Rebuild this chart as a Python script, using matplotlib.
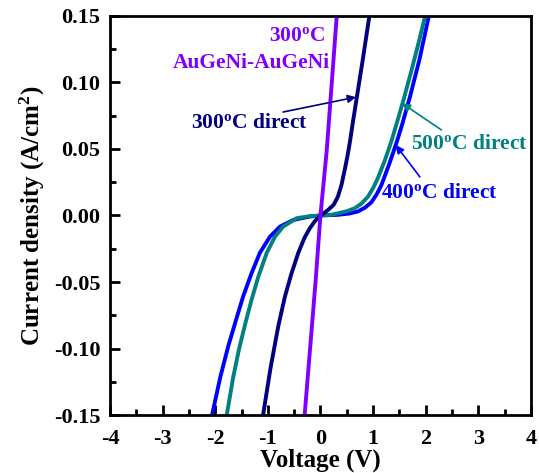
import matplotlib
matplotlib.use('Agg')
import matplotlib.pyplot as plt
from matplotlib.ticker import MultipleLocator

plt.rcParams['font.family'] = 'Liberation Serif'
plt.rcParams['font.weight'] = 'bold'
plt.rcParams['mathtext.fontset'] = 'custom'
plt.rcParams['mathtext.rm'] = 'Liberation Serif:bold'
plt.rcParams['mathtext.bf'] = 'Liberation Serif:bold'
plt.rcParams['mathtext.default'] = 'rm'

# ── Data (V in volts, J in A/cm²) ─────────────────────────────────────────────
v_augeni = [-0.30, -0.09, 0.0, 0.12, 0.31]
j_augeni = [-0.150, -0.0485, 0.0, 0.049, 0.150]

v_300 = [-1.09, -0.95, -0.80, -0.675, -0.55, -0.42, -0.30, -0.20, -0.10,
         0.0, 0.14, 0.25, 0.33, 0.40, 0.46, 0.51, 0.555, 0.62, 0.70, 0.80, 0.93]
j_300 = [-0.150, -0.115, -0.083, -0.061, -0.0435, -0.028, -0.0165, -0.0095, -0.004,
         0.0, 0.004, 0.008, 0.014, 0.023, 0.034, 0.044, 0.054, 0.071, 0.091, 0.116, 0.150]

v_500 = [-1.78, -1.66, -1.55, -1.42, -1.31, -1.18, -1.02, -0.865, -0.71, -0.45, -0.20,
         0.0, 0.20, 0.33, 0.50, 0.65, 0.78, 0.90, 1.00, 1.09, 1.22, 1.35, 1.47, 1.60, 1.73, 1.86, 1.99]
j_500 = [-0.150, -0.122, -0.101, -0.080, -0.0635, -0.046, -0.028, -0.016, -0.0084, -0.002, -0.0005,
         0.0, 0.0005, 0.0016, 0.0032, 0.0054, 0.009, 0.014, 0.0205, 0.028, 0.041, 0.056, 0.072, 0.090, 0.109, 0.129, 0.150]

v_400 = [-2.06, -1.90, -1.75, -1.60, -1.47, -1.31, -1.15, -0.96, -0.77, -0.52, -0.20,
         0.0, 0.33, 0.55, 0.71, 0.85, 0.97, 1.07, 1.16, 1.31, 1.44, 1.55, 1.70, 1.88, 2.06]
j_400 = [-0.150, -0.121, -0.098, -0.078, -0.061, -0.0435, -0.028, -0.016, -0.0084, -0.0034, -0.0008,
         0.0, 0.0005, 0.0015, 0.003, 0.006, 0.010, 0.016, 0.023, 0.039, 0.054, 0.068, 0.089, 0.117, 0.150]

c_augeni, c_300, c_400, c_500 = '#8000ff', '#000080', '#0000ff', '#008080'

fig = plt.figure(figsize=(5.39, 4.73), dpi=100)
ax = fig.add_axes([0.204, 0.1226, 0.781, 0.8436])

line_kw = dict(lw=2.8, solid_joinstyle='round', solid_capstyle='butt')
ax.plot(v_400, j_400, color=c_400, **line_kw)
ax.plot(v_500, j_500, color=c_500, **line_kw)
ax.plot(v_300, j_300, color=c_300, **line_kw)
ax.plot(v_augeni, j_augeni, color=c_augeni, **line_kw)

ax.set_xlim(-4, 4)
ax.set_ylim(-0.15, 0.15)
ax.xaxis.set_minor_locator(MultipleLocator(0.5))
ax.yaxis.set_minor_locator(MultipleLocator(0.025))
ax.set_xticks(range(-4, 5))
ax.set_xticklabels([str(i) for i in range(-4, 5)])
ax.set_yticks([-0.15, -0.10, -0.05, 0.0, 0.05, 0.10, 0.15])
ax.set_yticklabels(['-0.15', '-0.10', '-0.05', '0.00', '0.05', '0.10', '0.15'])
ax.tick_params(which='both', direction='in', width=2, labelsize=16)
ax.tick_params(axis='x', pad=10)
ax.tick_params(axis='y', pad=7)
ax.tick_params(which='major', length=7)
ax.tick_params(which='minor', length=4)
for s in ax.spines.values():
    s.set_linewidth(2)

ax.set_xlabel('Voltage (V)', fontsize=18, fontweight='bold', labelpad=0)
ax.set_ylabel('Current density (A/cm$^{2}$)', fontsize=18, fontweight='bold', labelpad=5)

# annotations
ax.text(-0.44, 0.135, '300$^{o}$C', color=c_augeni, fontsize=15.5, ha='center', va='center')
ax.text(-1.31, 0.1147, 'AuGeNi-AuGeNi', color=c_augeni, fontsize=15.5, ha='center', va='center')
ax.text(-1.34, 0.0695, '300$^{o}$C direct', color=c_300, fontsize=15.5, ha='center', va='center')
ax.text(2.83, 0.054, '500$^{o}$C direct', color=c_500, fontsize=15.5, ha='center', va='center')
ax.text(2.27, 0.0172, '400$^{o}$C direct', color=c_400, fontsize=15.5, ha='center', va='center')

arr = dict(arrowstyle='-|>', lw=1.2, mutation_scale=12, shrinkA=0, shrinkB=0)
ax.annotate('', xy=(0.675, 0.089), xytext=(-0.71, 0.0778), arrowprops=dict(arr, color=c_300))
ax.annotate('', xy=(1.55, 0.0844), xytext=(2.30, 0.0643), arrowprops=dict(arr, color=c_500))
ax.annotate('', xy=(1.43, 0.0530), xytext=(1.89, 0.029), arrowprops=dict(arr, color=c_400))

fig.savefig('out.png', dpi=100)
